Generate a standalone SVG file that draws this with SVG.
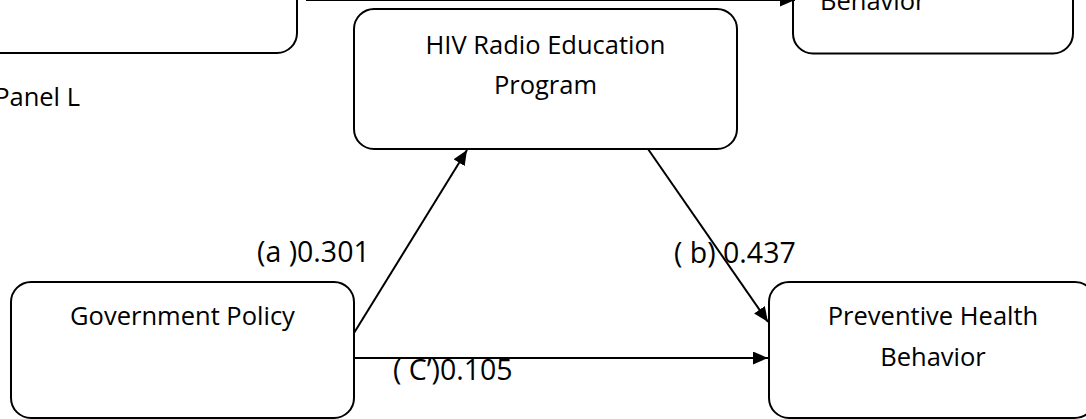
<svg xmlns="http://www.w3.org/2000/svg" width="1086" height="419" viewBox="0 0 1086 419">
  <style>
    .box { fill: #ffffff; stroke: #000000; stroke-width: 2; }
    .lbl { font-family: "Open Sans", "Liberation Sans", sans-serif; font-size: 25.5px; fill: #000000; }
    .elbl { font-family: "Open Sans", "Liberation Sans", sans-serif; font-size: 28.5px; fill: #000000; }
    .mid { text-anchor: middle; }
    .conn { stroke: #000000; stroke-width: 2; fill: none; marker-end: url(#arrow); }
  </style>
  <defs>
    <marker id="arrow" markerUnits="userSpaceOnUse" markerWidth="16" markerHeight="13" refX="15" refY="6.5" orient="auto">
      <path d="M0,0 L15,6.5 L0,13 z" fill="#000000"/>
    </marker>
  </defs>
  <rect width="1086" height="419" fill="#ffffff"/>

  <g id="node-topleft">
    <rect class="box" x="-40" y="-120" width="337" height="173" rx="20" ry="20"/>
  </g>
  <g id="node-topright">
    <rect class="box" x="793" y="-120" width="280" height="173.5" rx="20" ry="20"/>
    <text class="lbl" x="820" y="9.5">Behavior</text>
  </g>
  <g id="panel-label">
    <text class="lbl" x="80" y="106" text-anchor="end">Panel L</text>
  </g>
  <g id="node-hiv">
    <rect class="box" x="354" y="9" width="383" height="140" rx="20" ry="20"/>
    <text class="lbl mid" x="545.5" y="54">HIV Radio Education</text>
    <text class="lbl mid" x="545.5" y="94">Program</text>
  </g>
  <g id="node-gov">
    <rect class="box" x="11" y="282" width="343" height="136" rx="20" ry="20"/>
    <text class="lbl mid" x="182.5" y="325">Government Policy</text>
  </g>
  <g id="node-phb">
    <rect class="box" x="769" y="282" width="326" height="136" rx="20" ry="20"/>
    <text class="lbl mid" x="933" y="325">Preventive Health</text>
    <text class="lbl mid" x="933" y="366">Behavior</text>
  </g>

  <g id="connectors">
    <line class="conn" x1="306" y1="0" x2="795" y2="0"/>
    <line class="conn" x1="354" y1="333" x2="467" y2="150"/>
    <line class="conn" x1="648" y1="149" x2="768" y2="322"/>
    <line class="conn" x1="354" y1="358" x2="768" y2="358"/>
  </g>

  <g id="edge-labels">
    <text class="elbl" x="257" y="262">(a )0.301</text>
    <text class="elbl" x="674" y="263">( b) 0.437</text>
    <text class="elbl" x="393" y="380">( C’)0.105</text>
  </g>
</svg>
